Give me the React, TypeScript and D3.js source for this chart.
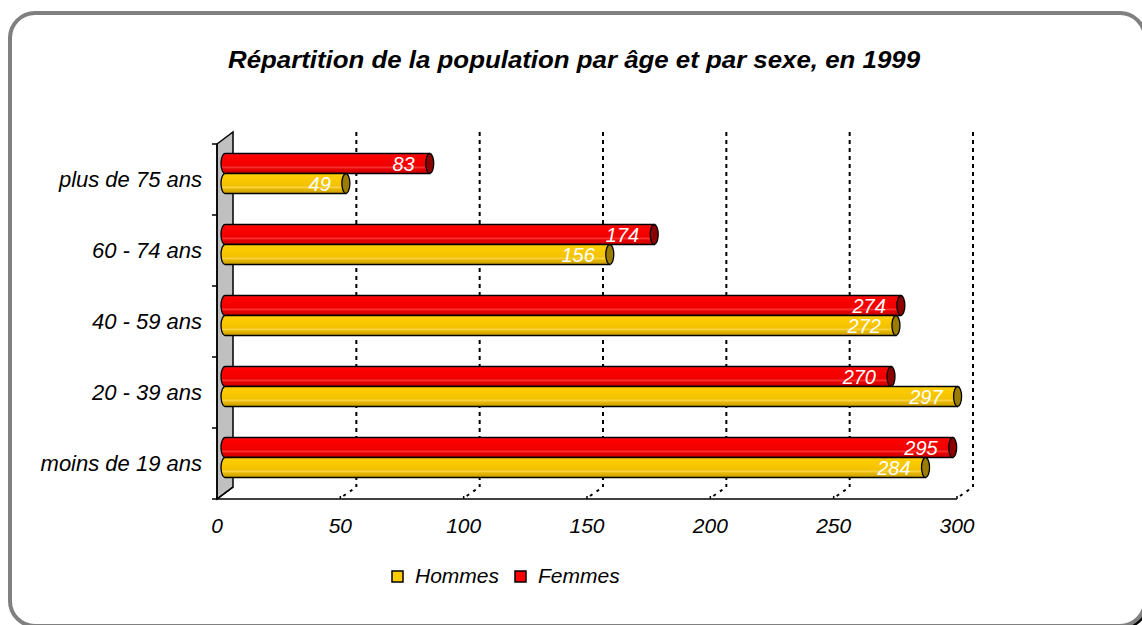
import React, { useRef, useEffect } from "react";
import * as d3 from "d3";

const categories = ["moins de 19 ans", "20 - 39 ans", "40 - 59 ans", "60 - 74 ans", "plus de 75 ans"];
const hommes = [284, 297, 272, 156, 49];
const femmes = [295, 270, 274, 174, 83];
const seriesNames = ["Femmes", "Hommes"];
const xTicks = [0, 50, 100, 150, 200, 250, 300];
const title = "Répartition de la population par âge et par sexe, en 1999";

const App = () => {
  const svgRef = useRef(null);

  const drawChart = () => {
    const W = 1142;
    const H = 625;
    const svg = d3.select(svgRef.current);
    svg.selectAll("*").remove();
    svg.attr("width", W).attr("height", H);

    const font = "Arial, 'Liberation Sans', sans-serif";

    /* plot frame (front plane) and 3D depth */
    const left = 217;
    const right = 957;
    const top = 144;
    const bottom = 499;
    const depthX = 16;
    const depthY = -12;

    const x = d3.scaleLinear().domain([0, 300]).range([left, right]);
    const y = d3
      .scaleBand()
      .domain(categories.slice().reverse())
      .range([top, bottom]);
    const inner = d3.scaleBand().domain(seriesNames).range([-20, 20]);

    /* gradients */
    const defs = svg.append("defs");
    const grad = (id, stops) => {
      const g = defs
        .append("linearGradient")
        .attr("id", id)
        .attr("x1", 0)
        .attr("y1", 0)
        .attr("x2", 0)
        .attr("y2", 1);
      stops.forEach(([o, c]) => g.append("stop").attr("offset", o).attr("stop-color", c));
    };
    grad("gradRed", [
      [0, "#ff2020"],
      [0.12, "#ff0000"],
      [0.6, "#f00000"],
      [0.7, "#f83030"],
      [0.78, "#e80000"],
      [1, "#c80000"],
    ]);
    grad("gradYellow", [
      [0, "#ffd820"],
      [0.12, "#ffcc00"],
      [0.6, "#f2c200"],
      [0.7, "#f8d040"],
      [0.78, "#e6b800"],
      [1, "#c89c00"],
    ]);

    /* border with shadow */
    svg
      .append("rect")
      .attr("x", 13)
      .attr("y", 16)
      .attr("width", 1135)
      .attr("height", 613)
      .attr("rx", 25)
      .attr("fill", "#000");
    svg
      .append("rect")
      .attr("x", 10)
      .attr("y", 13)
      .attr("width", 1135)
      .attr("height", 613)
      .attr("rx", 25)
      .attr("fill", "#fff")
      .attr("stroke", "#808080")
      .attr("stroke-width", 4);

    /* title */
    svg
      .append("text")
      .attr("x", 574)
      .attr("y", 68)
      .attr("text-anchor", "middle")
      .style("font-family", font)
      .style("font-size", "24px")
      .style("font-weight", "bold")
      .style("font-style", "italic")
      .attr("textLength", 692)
      .attr("lengthAdjust", "spacingAndGlyphs")
      .text(title);

    /* left wall */
    svg
      .append("path")
      .attr(
        "d",
        `M${left},${top} L${left + depthX},${top + depthY} L${left + depthX},${bottom + depthY} L${left},${bottom} Z`
      )
      .attr("fill", "#c0c0c0")
      .attr("stroke", "#000")
      .attr("stroke-width", 1.5);

    /* gridlines on back wall and floor */
    xTicks
      .filter((t) => t > 0)
      .forEach((t) => {
        svg
          .append("line")
          .attr("x1", x(t) + depthX)
          .attr("x2", x(t) + depthX)
          .attr("y1", top + depthY)
          .attr("y2", bottom + depthY)
          .attr("stroke", "#000")
          .attr("stroke-width", 2)
          .attr("stroke-dasharray", "4,4");
        svg
          .append("line")
          .attr("x1", x(t) + 3)
          .attr("x2", x(t) + depthX)
          .attr("y1", bottom - 3)
          .attr("y2", bottom + depthY)
          .attr("stroke", "#000")
          .attr("stroke-width", 2)
          .attr("stroke-dasharray", "3,5");
      });
    svg
      .append("line")
      .attr("x1", left)
      .attr("x2", left + depthX)
      .attr("y1", bottom)
      .attr("y2", bottom + depthY)
      .attr("stroke", "#000")
      .attr("stroke-width", 1.5);

    /* bars as cylinders */
    const rx = 4;
    const seriesData = { Hommes: hommes, Femmes: femmes };
    const fills = { Hommes: "url(#gradYellow)", Femmes: "url(#gradRed)" };
    const caps = { Hommes: "#9a7c00", Femmes: "#8c0000" };

    categories.forEach((cat, i) => {
      const cy = y(cat) + y.bandwidth() / 2 + depthY / 2;
      seriesNames.forEach((s) => {
        const v = seriesData[s][i];
        const x0 = x(0) + depthX / 2;
        const x1 = x(v) + depthX / 2;
        const y0 = cy + inner(s);
        const y1 = y0 + inner.bandwidth();
        const ry = inner.bandwidth() / 2;
        const g = svg.append("g");
        g.append("path")
          .attr(
            "d",
            `M${x0},${y0} L${x1},${y0} L${x1},${y1} L${x0},${y1} A${rx},${ry} 0 0 1 ${x0},${y0} Z`
          )
          .attr("fill", fills[s])
          .attr("stroke", "#000")
          .attr("stroke-width", 1.3);
        g.append("ellipse")
          .attr("cx", x1)
          .attr("cy", y0 + ry)
          .attr("rx", rx)
          .attr("ry", ry)
          .attr("fill", caps[s])
          .attr("stroke", "#000")
          .attr("stroke-width", 1.3);
        g.append("text")
          .attr("x", x1 - 15)
          .attr("y", y0 + ry + 7)
          .attr("text-anchor", "end")
          .attr("fill", "#fff")
          .style("font-family", font)
          .style("font-size", "20px")
          .style("font-style", "italic")
          .text(v);
      });
    });

    /* axes */
    svg
      .append("line")
      .attr("x1", left)
      .attr("x2", left)
      .attr("y1", top)
      .attr("y2", bottom)
      .attr("stroke", "#000")
      .attr("stroke-width", 1.5);
    svg
      .append("line")
      .attr("x1", left)
      .attr("x2", right)
      .attr("y1", bottom)
      .attr("y2", bottom)
      .attr("stroke", "#000")
      .attr("stroke-width", 1.5);

    /* y ticks at band boundaries */
    const bounds = categories.map((c) => y(c)).concat([bottom]);
    bounds.forEach((b) => {
      svg
        .append("line")
        .attr("x1", left - 5)
        .attr("x2", left)
        .attr("y1", b)
        .attr("y2", b)
        .attr("stroke", "#000")
        .attr("stroke-width", 1.5);
    });
    categories.forEach((c) => {
      svg
        .append("text")
        .attr("x", 202)
        .attr("y", y(c) + y.bandwidth() / 2 + 7)
        .attr("text-anchor", "end")
        .style("font-family", font)
        .style("font-size", "22px")
        .style("font-style", "italic")
        .text(c);
    });

    /* x ticks */
    xTicks.forEach((t) => {
      svg
        .append("line")
        .attr("x1", x(t))
        .attr("x2", x(t))
        .attr("y1", bottom - 3)
        .attr("y2", bottom)
        .attr("stroke", "#000")
        .attr("stroke-width", 1.5);
      svg
        .append("text")
        .attr("x", x(t))
        .attr("y", 533)
        .attr("text-anchor", "middle")
        .style("font-family", font)
        .style("font-size", "21px")
        .style("font-style", "italic")
        .text(t);
    });

    /* legend */
    const legend = [
      { name: "Hommes", color: "#ffcc00", x: 392 },
      { name: "Femmes", color: "#ff0000", x: 515 },
    ];
    legend.forEach((l) => {
      svg
        .append("rect")
        .attr("x", l.x)
        .attr("y", 571)
        .attr("width", 11)
        .attr("height", 11)
        .attr("fill", l.color)
        .attr("stroke", "#000")
        .attr("stroke-width", 1.5);
      svg
        .append("text")
        .attr("x", l.x + 23)
        .attr("y", 583)
        .style("font-family", font)
        .style("font-size", "21px")
        .style("font-style", "italic")
        .text(l.name);
    });
  };

  useEffect(() => {
    drawChart();
  }, []);

  return (
    <div style={{ position: "absolute", left: 0, top: 0 }}>
      <svg ref={svgRef} style={{ display: "block" }} />
    </div>
  );
};

export default App;
